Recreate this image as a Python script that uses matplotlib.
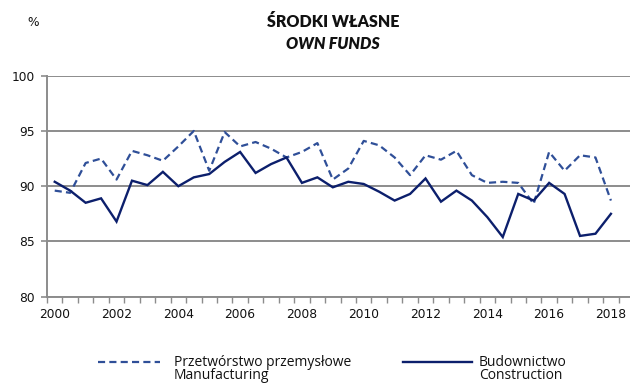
import matplotlib
matplotlib.use("Agg")
import matplotlib.pyplot as plt
from matplotlib.lines import Line2D
import numpy as np

# Half-yearly observations, 2000 H1 .. 2018 H1 (%)
periods = [f"{y} H{h}" for y in range(2000, 2019) for h in (1, 2)][:37]
manufacturing = [89.6, 89.4, 92.1, 92.5, 90.6, 93.2, 92.8, 92.3, 93.6, 95.0,
                 91.4, 94.9, 93.6, 94.0, 93.4, 92.6, 93.1, 93.9, 90.6, 91.6,
                 94.1, 93.7, 92.6, 91.0, 92.8, 92.4, 93.2, 91.0, 90.3, 90.4,
                 90.3, 88.4, 93.1, 91.4, 92.8, 92.6, 88.7]
construction = [90.4, 89.6, 88.5, 88.9, 86.8, 90.5, 90.1, 91.3, 90.0, 90.8,
                91.1, 92.2, 93.1, 91.2, 92.0, 92.6, 90.3, 90.8, 89.9, 90.4,
                90.2, 89.5, 88.7, 89.3, 90.7, 88.6, 89.6, 88.7, 87.2, 85.4,
                89.3, 88.7, 90.3, 89.3, 85.5, 85.7, 87.5]
year_labels = ["2000", "2002", "2004", "2006", "2008", "2010", "2012",
               "2014", "2016", "2018"]
y_ticks = [80, 85, 90, 95, 100]

W, H = 630, 383
fig = plt.figure(figsize=(W / 100, H / 100), dpi=100)

FONT = "Open Sans"
TITLE_FONT = "Lato"
TICK_FONT = "DejaVu Sans"
GRID = "#8c8c8c"
C_MAN = "#2f4f98"
C_CON = "#0c1f6c"
TXT = "#111111"

x = np.arange(len(periods))
unit_px = 15.45
left_px, top_px, bottom_px = 47, 75.7, 296.7
span = 38.0
ax = fig.add_axes([left_px / W, (H - bottom_px) / H,
                   span * unit_px / W, (bottom_px - top_px) / H])

ax.plot(x, manufacturing, color=C_MAN, lw=1.6, dashes=(3.2, 1.9),
        solid_joinstyle="miter", zorder=3)
ax.plot(x, construction, color=C_CON, lw=1.7, solid_joinstyle="miter", zorder=4)

ax.set_xlim(-0.5, span - 0.5)
ax.set_ylim(80, 100)

# y axis
ax.set_yticks(y_ticks)
ax.set_yticklabels([str(v) for v in y_ticks], fontsize=8.8, family=TICK_FONT,
                   color=TXT)
ax.yaxis.grid(True, color=GRID, lw=1.4)
ax.set_axisbelow(True)
ax.tick_params(axis="y", length=4, width=1.2, color=GRID, pad=5)

# x axis: a tick between half-years, year labels every two years
ax.set_xticks(np.arange(0, len(periods), 4))
ax.set_xticklabels(year_labels, fontsize=8.8, family=TICK_FONT, color=TXT)
ax.set_xticks(np.arange(-0.5, span, 1.0), minor=True)
ax.tick_params(axis="x", which="major", length=0, pad=8)
ax.tick_params(axis="x", which="minor", length=4, width=1.0, color=GRID)

for s in ("top", "right"):
    ax.spines[s].set_visible(False)
for s in ("left", "bottom"):
    ax.spines[s].set_color(GRID)
    ax.spines[s].set_linewidth(1.4)

# titles
fig.text(333 / W, 1 - 22 / H, "ŚRODKI WŁASNE", ha="center", va="center",
         fontsize=11.5, fontweight="heavy", family=TITLE_FONT, color=TXT)
fig.text(333 / W, 1 - 44 / H, "OWN FUNDS", ha="center", va="center",
         fontsize=11.5, fontweight="heavy", style="italic", family=TITLE_FONT,
         color=TXT)
fig.text(33 / W, 1 - 22 / H, "%", ha="center", va="center", fontsize=8.8,
         family=TICK_FONT, color=TXT)

# legend
ly = 1 - 362 / H
ly2 = 1 - 375.5 / H
fig.add_artist(Line2D([98 / W, 160 / W], [ly, ly], transform=fig.transFigure,
                      color=C_MAN, lw=1.6, dashes=(3.2, 1.9)))
fig.text(174 / W, ly, "Przetwórstwo przemysłowe", ha="left", va="center",
         fontsize=10, family=FONT, color=TXT)
fig.text(174 / W, ly2, "Manufacturing", ha="left", va="center",
         fontsize=10, family=FONT, color=TXT)
fig.add_artist(Line2D([403 / W, 472 / W], [ly, ly], transform=fig.transFigure,
                      color=C_CON, lw=1.7))
fig.text(479 / W, ly, "Budownictwo", ha="left", va="center",
         fontsize=10, family=FONT, color=TXT)
fig.text(479 / W, ly2, "Construction", ha="left", va="center",
         fontsize=10, family=FONT, color=TXT)

fig.savefig("out.png", dpi=100)
